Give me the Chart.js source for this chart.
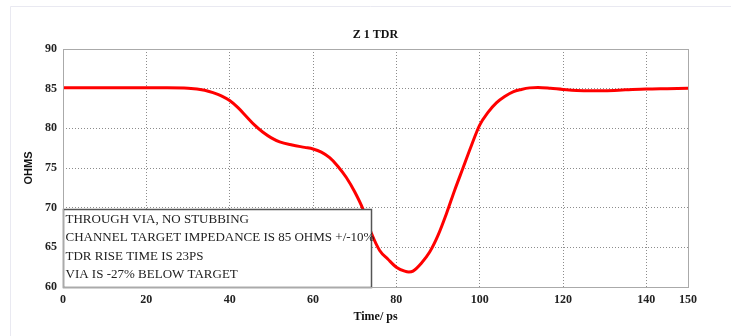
<!DOCTYPE html>
<html>
<head>
<meta charset="utf-8">
<script src="https://cdn.jsdelivr.net/npm/chart.js@4.4.1/dist/chart.umd.min.js"></script>
<style>
  html, body { margin: 0; padding: 0; background: #fff; }
  #wrap { width: 731px; height: 336px; position: relative; }
</style>
</head>
<body>
<div id="wrap"><canvas id="tdr" width="731" height="336"></canvas></div>
<script>
// TDR trace: time (ps) vs impedance (ohms)
const timePs = [0, 10, 20, 25, 30, 34, 36, 38, 40, 42, 44, 46, 48, 50, 52, 55, 58, 60, 62, 64, 66, 68, 70, 72, 74, 76, 78, 80, 82, 83, 84, 86, 88, 90, 92, 94, 96, 98, 100, 102, 104, 106, 108, 110, 112, 114, 117, 120, 125, 130, 135, 140, 145, 150];
const ohms = [85.1, 85.1, 85.1, 85.1, 85.05, 84.8, 84.5, 84.1, 83.5, 82.6, 81.5, 80.4, 79.5, 78.8, 78.3, 77.9, 77.6, 77.4, 77.0, 76.3, 75.2, 73.8, 72.0, 69.8, 66.8, 64.6, 63.5, 62.5, 62.0, 61.9, 62.0, 63.0, 64.4, 66.5, 69.2, 72.2, 75.0, 77.8, 80.4, 82.0, 83.2, 84.0, 84.6, 84.9, 85.1, 85.15, 85.05, 84.9, 84.75, 84.75, 84.85, 84.95, 85.0, 85.05];

const xTicks = [0, 20, 40, 60, 80, 100, 120, 140, 150];
const chartTitle = 'Z 1 TDR';
const notes = [
  'THROUGH VIA, NO STUBBING',
  'CHANNEL TARGET IMPEDANCE IS 85 OHMS +/-10%',
  'TDR RISE TIME IS 23PS',
  'VIA IS -27% BELOW TARGET'
];

const serif = '"Liberation Serif", "Times New Roman", serif';

// faint page frame, plot border and a title centred over the plot area
const framePlugin = {
  id: 'frame',
  beforeDraw(chart) {
    const c = chart.ctx;
    c.save();
    c.strokeStyle = '#e9e9f1';
    c.lineWidth = 1;
    c.beginPath();
    c.moveTo(10.5, 336);
    c.lineTo(10.5, 6.5);
    c.lineTo(731, 6.5);
    c.stroke();
    c.restore();
  },
  afterDraw(chart) {
    const a = chart.chartArea;
    const c = chart.ctx;
    c.save();
    c.strokeStyle = '#aaaaaa';
    c.lineWidth = 1;
    c.strokeRect(Math.round(a.left) + 0.5, Math.round(a.top) + 0.5,
      Math.round(a.right - a.left), Math.round(a.bottom - a.top));
    c.fillStyle = '#111';
    c.font = 'bold 12px ' + serif;
    c.textAlign = 'center';
    c.textBaseline = 'middle';
    c.fillText(chartTitle, (a.left + a.right) / 2, a.top - 14);
    c.restore();
  }
};

// note box in the lower-left corner, drawn over the trace
const notePlugin = {
  id: 'notes',
  afterDatasetsDraw(chart) {
    const a = chart.chartArea;
    const c = chart.ctx;
    const x0 = Math.round(a.left) + 0.5;
    const w = 308;
    const h = 78;
    const y0 = Math.round(a.bottom) - h + 0.5;
    c.save();
    c.fillStyle = '#ffffff';
    c.fillRect(x0, y0, w, h);
    c.strokeStyle = '#555555';
    c.lineWidth = 1.5;
    c.strokeRect(x0, y0, w, h);
    c.fillStyle = '#222222';
    c.font = '13px ' + serif;
    c.textBaseline = 'middle';
    notes.forEach((t, i) => c.fillText(t, x0 + 2, y0 + 10 + i * 18.3));
    c.restore();
  }
};

new Chart(document.getElementById('tdr').getContext('2d'), {
  type: 'line',
  data: {
    datasets: [{
      data: timePs.map((t, i) => ({ x: t, y: ohms[i] })),
      borderColor: '#ff0000',
      borderWidth: 3,
      pointRadius: 0,
      cubicInterpolationMode: 'monotone',
      fill: false
    }]
  },
  options: {
    responsive: false,
    animation: false,
    layout: { padding: { top: 49, right: 43, bottom: 0, left: 0 } },
    plugins: {
      legend: { display: false },
      tooltip: { enabled: false },
      title: { display: false }
    },
    scales: {
      x: {
        type: 'linear',
        min: 0,
        max: 150,
        afterBuildTicks(s) { s.ticks = xTicks.map(v => ({ value: v })); },
        afterFit(s) { s.height = 49; },
        grid: { color: '#8c8c8c', lineWidth: 1, drawTicks: false },
        border: { display: false, dash: [1, 2] },
        ticks: {
          color: '#222',
          padding: 6,
          maxRotation: 0,
          autoSkip: false,
          font: { family: serif, size: 12, weight: 'bold' }
        },
        title: {
          display: true,
          text: 'Time/ ps',
          color: '#111',
          padding: { top: 4, bottom: 12 },
          font: { family: serif, size: 12, weight: 'bold' }
        }
      },
      y: {
        min: 60,
        max: 90,
        afterFit(s) { s.width = 63; },
        grid: { color: '#8c8c8c', lineWidth: 1, drawTicks: false },
        border: { display: false, dash: [1, 2] },
        ticks: {
          stepSize: 5,
          color: '#222',
          padding: 6,
          font: { family: serif, size: 12, weight: 'bold' }
        },
        title: {
          display: true,
          text: 'OHMS',
          color: '#111',
          padding: { top: 22, bottom: 0 },
          font: { family: '"Liberation Sans", Arial, sans-serif', size: 11, weight: 'bold' }
        }
      }
    }
  },
  plugins: [framePlugin, notePlugin]
});
</script>
</body>
</html>
